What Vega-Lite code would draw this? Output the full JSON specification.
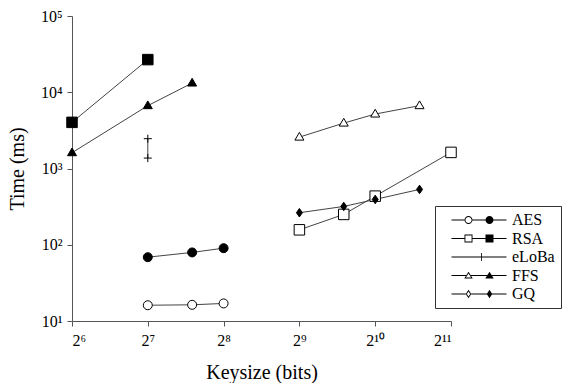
{
  "$schema": "https://vega.github.io/schema/vega-lite/v6.json",
  "width": 379,
  "height": 305,
  "autosize": {"type": "none"},
  "padding": {"left": 72, "top": 16, "right": 121, "bottom": 62},
  "background": "white",
  "config": {
    "view": {"stroke": null},
    "font": "Liberation Serif",
    "axis": {
      "grid": false,
      "domainColor": "#555",
      "tickColor": "#555",
      "tickSize": 5,
      "labelFont": "Liberation Serif",
      "labelFontSize": 16,
      "labelColor": "black",
      "titleFont": "Liberation Serif",
      "titleFontSize": 20,
      "titleFontWeight": "normal",
      "titleColor": "black"
    }
  },
  "data": {
    "values": [
      {"alg": "AES", "v": "filled", "x": 128, "y": 68.7},
      {"alg": "AES", "v": "filled", "x": 192, "y": 79.3},
      {"alg": "AES", "v": "filled", "x": 256, "y": 90.2},
      {"alg": "AES", "v": "open", "x": 128, "y": 16.1},
      {"alg": "AES", "v": "open", "x": 192, "y": 16.3},
      {"alg": "AES", "v": "open", "x": 256, "y": 17.0},
      {"alg": "RSA", "v": "filled", "x": 64, "y": 4030},
      {"alg": "RSA", "v": "filled", "x": 128, "y": 26800},
      {"alg": "RSA", "v": "open", "x": 512, "y": 157},
      {"alg": "RSA", "v": "open", "x": 768, "y": 250},
      {"alg": "RSA", "v": "open", "x": 1024, "y": 434},
      {"alg": "RSA", "v": "open", "x": 2048, "y": 1626},
      {"alg": "eLoBa", "v": "filled", "x": 128, "y": 2460},
      {"alg": "eLoBa", "v": "filled", "x": 128, "y": 1370},
      {"alg": "FFS", "v": "filled", "x": 64, "y": 1610},
      {"alg": "FFS", "v": "filled", "x": 128, "y": 6670},
      {"alg": "FFS", "v": "filled", "x": 192, "y": 13200},
      {"alg": "FFS", "v": "open", "x": 512, "y": 2580},
      {"alg": "FFS", "v": "open", "x": 768, "y": 3940},
      {"alg": "FFS", "v": "open", "x": 1024, "y": 5180},
      {"alg": "FFS", "v": "open", "x": 1536, "y": 6670},
      {"alg": "GQ", "v": "filled", "x": 512, "y": 263},
      {"alg": "GQ", "v": "filled", "x": 768, "y": 318},
      {"alg": "GQ", "v": "filled", "x": 1024, "y": 393},
      {"alg": "GQ", "v": "filled", "x": 1536, "y": 532}
    ]
  },
  "encoding": {
    "x": {
      "field": "x", "type": "quantitative",
      "scale": {"type": "log", "base": 2, "domain": [64, 2048], "nice": false, "zero": false},
      "axis": {
        "title": "Keysize (bits)",
        "values": [64, 128, 256, 512, 1024, 2048],
        "labelExpr": "datum.value==64?'2⁶':datum.value==128?'2⁷':datum.value==256?'2⁸':datum.value==512?'2⁹':datum.value==1024?'2¹⁰':'2¹¹'",
        "labelPadding": 6,
        "titlePadding": 14
      }
    },
    "y": {
      "field": "y", "type": "quantitative",
      "scale": {"type": "log", "base": 10, "domain": [10, 100000], "nice": false, "zero": false},
      "axis": {
        "title": "Time (ms)",
        "values": [10, 100, 1000, 10000, 100000],
        "labelExpr": "datum.value==10?'10¹':datum.value==100?'10²':datum.value==1000?'10³':datum.value==10000?'10⁴':'10⁵'",
        "labelPadding": 5,
        "titlePadding": 13
      }
    }
  },
  "resolve": {"scale": {"shape": "independent"}, "legend": {"shape": "independent"}},
  "layer": [
    {
      "mark": {"type": "line", "color": "#444", "strokeWidth": 1},
      "encoding": {
        "detail": [{"field": "alg"}, {"field": "v"}],
        "order": {"field": "x", "type": "quantitative"}
      }
    },
    {
      "mark": {"type": "point", "filled": false, "size": 100, "stroke": "black", "strokeWidth": 1, "opacity": 1},
      "encoding": {
        "shape": {
          "field": "alg", "type": "nominal",
          "scale": {
            "domain": ["AES", "RSA", "eLoBa", "FFS", "GQ"],
            "range": [
              "M0.9,0A0.9,0.9 0 1,1 -0.9,0A0.9,0.9 0 1,1 0.9,0Z",
              "M-1.05,-1.05H1.05V1.05H-1.05Z",
              "M-0.8,0H0.8M0,-0.8V0.8",
              "M0,-0.95L0.9,0.6L-0.9,0.6Z",
              "M0,-0.85L0.6,0L0,0.85L-0.6,0Z"
            ]
          },
          "legend": null
        },
        "fill": {
          "field": "v", "type": "nominal",
          "scale": {"domain": ["open", "filled"], "range": ["white", "black"]},
          "legend": null
        }
      }
    },
    {
      "transform": [{"filter": "datum.x < 0"}],
      "mark": {"type": "point", "filled": true, "size": 100, "color": "black", "opacity": 1},
      "encoding": {
        "shape": {
          "field": "alg", "type": "nominal",
          "scale": {
            "domain": ["AES", "RSA", "eLoBa", "FFS", "GQ"],
            "range": [
              "M-5.5,-0.08H-2.9V0.08H-5.5ZM-1.3,-0.08H5.5V0.08H-1.3ZM-1.3,0A0.8,0.8 0 1,1 -2.9,0A0.8,0.8 0 1,1 -1.3,0ZM-1.48,0A0.62,0.62 0 1,0 -2.72,0A0.62,0.62 0 1,0 -1.48,0ZM2.9,0A0.8,0.8 0 1,1 1.3,0A0.8,0.8 0 1,1 2.9,0Z",
              "M-5.5,-0.08H-2.9V0.08H-5.5ZM-1.3,-0.08H5.5V0.08H-1.3ZM-2.9,-0.8H-1.3V0.8H-2.9ZM-2.72,-0.62V0.62H-1.48V-0.62ZM1.3,-0.8H2.9V0.8H1.3Z",
              "M-5.5,-0.08H5.5V0.08H-5.5ZM0.42,-0.8H0.58V0.8H0.42Z",
              "M-5.5,-0.08H-2.57V0.08H-5.5ZM-1.63,-0.08H5.5V0.08H-1.63ZM-2.1,-0.75L-1.25,0.6L-2.95,0.6ZM-2.1,-0.41L-2.62,0.42L-1.58,0.42ZM2.1,-0.75L2.95,0.6L1.25,0.6Z",
              "M-5.5,-0.08H-2.65V0.08H-5.5ZM-1.55,-0.08H5.5V0.08H-1.55ZM-2.1,-0.85L-1.55,0L-2.1,0.85L-2.65,0ZM-2.1,-0.52L-2.44,0L-2.1,0.52L-1.76,0ZM2.1,-0.85L2.65,0L2.1,0.85L1.55,0Z"
            ]
          },
          "legend": {
            "title": null,
            "orient": "none",
            "legendX": 363,
            "legendY": 190,
            "padding": 6,
            "strokeColor": "#333",
            "fillColor": "white",
            "symbolSize": 100,
            "symbolOffset": 30,
            "labelOffset": 25,
            "rowPadding": 2.5,
            "symbolFillColor": "black",
            "symbolStrokeColor": "transparent",
            "symbolStrokeWidth": 0,
            "symbolOpacity": 1,
            "labelFont": "Liberation Serif",
            "labelFontSize": 16,
            "labelColor": "black",
            "encode": {
              "symbols": {
                "update": {
                  "fill": {"value": "black"},
                  "opacity": {"value": 1}
                }
              }
            }
          }
        }
      }
    }
  ]
}
